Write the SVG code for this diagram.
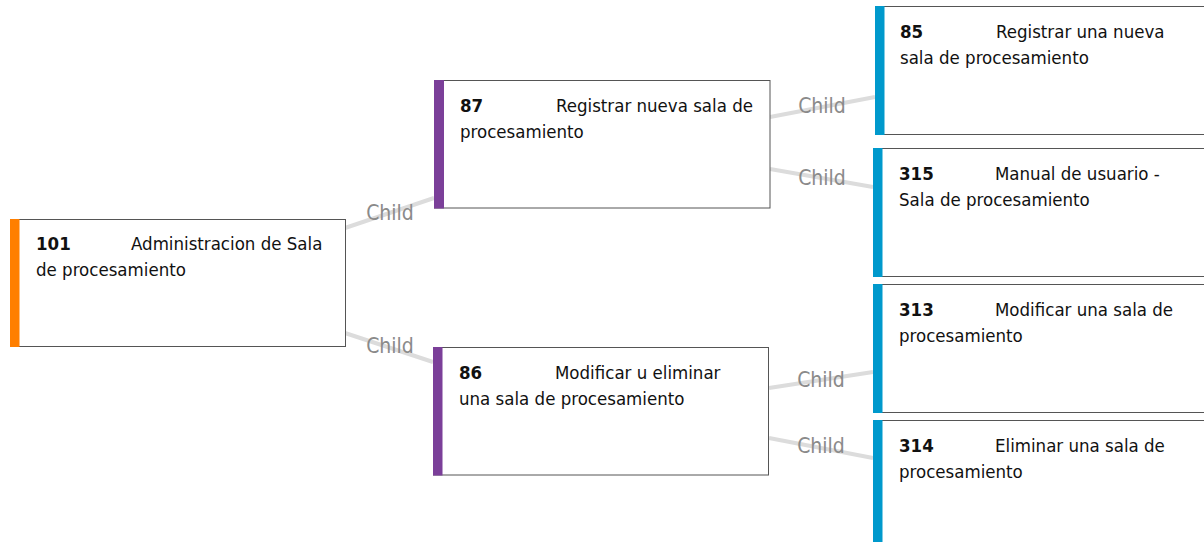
<svg xmlns="http://www.w3.org/2000/svg" width="1204" height="542" viewBox="0 0 1204 542">
<style>
.box{fill:#fff;stroke:#555;stroke-width:1}
.t{font-family:"DejaVu Sans Condensed","DejaVu Sans",sans-serif;font-stretch:condensed;font-size:18.5px;fill:#111}
.n{font-weight:bold}
.edge{stroke:#dcdcdc;stroke-width:4;fill:none}
.lbl{font-family:"DejaVu Sans Condensed","DejaVu Sans",sans-serif;font-stretch:condensed;font-size:21px;fill:#8a8a8a;text-anchor:middle}
.or{fill:#ff7f00}.pu{fill:#7b3f99}.bl{fill:#0099cc}
</style>
<rect width="1204" height="542" fill="#fff"/>
<g id="connectors">
<line class="edge" x1="345" y1="228" x2="434" y2="198"/>
<line class="edge" x1="345" y1="333" x2="433" y2="362"/>
<line class="edge" x1="770" y1="117" x2="875" y2="97"/>
<line class="edge" x1="770" y1="169" x2="873" y2="187"/>
<line class="edge" x1="769" y1="388" x2="873" y2="372"/>
<line class="edge" x1="769" y1="438" x2="873" y2="458"/>
<text class="lbl" x="390" y="220">Child</text>
<text class="lbl" x="390" y="353">Child</text>
<text class="lbl" x="822" y="113">Child</text>
<text class="lbl" x="822" y="185">Child</text>
<text class="lbl" x="821" y="387">Child</text>
<text class="lbl" x="821" y="453">Child</text>
</g>
<g id="n101">
<rect class="box" x="10.5" y="219.5" width="335" height="127"/>
<rect class="or" x="10" y="219" width="9.5" height="128"/>
<text class="t" x="36" y="250"><tspan class="n">101</tspan><tspan x="131">Administracion de Sala</tspan><tspan x="36" y="276">de procesamiento</tspan></text>
</g>
<g id="n87">
<rect class="box" x="434.5" y="80.5" width="335.5" height="127.5"/>
<rect class="pu" x="434" y="80" width="10" height="128.5"/>
<text class="t" x="460" y="112"><tspan class="n">87</tspan><tspan x="556">Registrar nueva sala de</tspan><tspan x="460" y="138">procesamiento</tspan></text>
</g>
<g id="n86">
<rect class="box" x="433.5" y="347.5" width="335" height="127.5"/>
<rect class="pu" x="433" y="347" width="9.5" height="128.5"/>
<text class="t" x="459" y="379"><tspan class="n">86</tspan><tspan x="555">Modificar u eliminar</tspan><tspan x="459" y="405">una sala de procesamiento</tspan></text>
</g>
<g id="n85">
<rect class="box" x="875.5" y="6.5" width="336" height="128"/>
<rect class="bl" x="875" y="6" width="9.5" height="129"/>
<text class="t" x="900" y="38"><tspan class="n">85</tspan><tspan x="996">Registrar una nueva</tspan><tspan x="900" y="64">sala de procesamiento</tspan></text>
</g>
<g id="n315">
<rect class="box" x="873.5" y="148.5" width="336" height="128"/>
<rect class="bl" x="873" y="148" width="9.5" height="129"/>
<text class="t" x="899" y="180"><tspan class="n">315</tspan><tspan x="995">Manual de usuario -</tspan><tspan x="899" y="206">Sala de procesamiento</tspan></text>
</g>
<g id="n313">
<rect class="box" x="873.5" y="284.5" width="336" height="128"/>
<rect class="bl" x="873" y="284" width="9.5" height="129"/>
<text class="t" x="899" y="316"><tspan class="n">313</tspan><tspan x="995">Modificar una sala de</tspan><tspan x="899" y="342">procesamiento</tspan></text>
</g>
<g id="n314">
<rect class="box" x="873.5" y="420.5" width="336" height="128"/>
<rect class="bl" x="873" y="420" width="9.5" height="129"/>
<text class="t" x="899" y="452"><tspan class="n">314</tspan><tspan x="995">Eliminar una sala de</tspan><tspan x="899" y="478">procesamiento</tspan></text>
</g>
</svg>
